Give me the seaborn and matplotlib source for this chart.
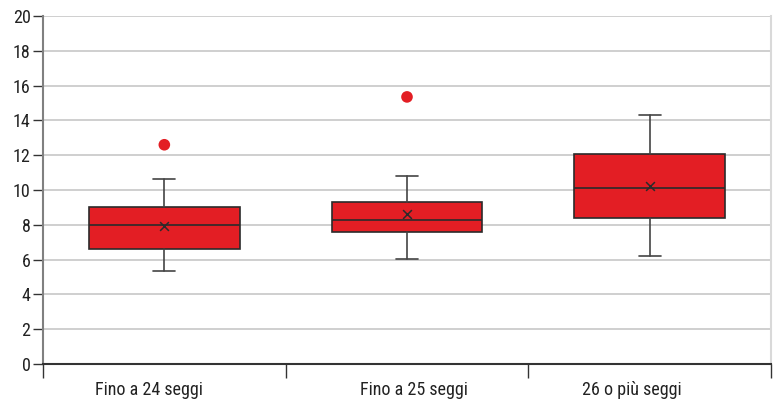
import matplotlib
matplotlib.use("Agg")
import matplotlib.pyplot as plt
import matplotlib.transforms as mtransforms
import seaborn as sns
import numpy as np

# --- Data ---
categories = ["Fino a 24 seggi", "Fino a 25 seggi", "26 o più seggi"]
whisker_low = [5.35, 6.05, 6.2]
q1 = [6.6, 7.6, 8.4]
median = [8.0, 8.3, 10.1]
q3 = [9.0, 9.3, 12.05]
whisker_high = [10.65, 10.8, 14.3]
means = [7.95, 8.6, 10.25]
outliers = [[12.6], [15.35], []]
y_ticks = list(range(0, 21, 2))

RED = "#e31e24"

sns.set_style("white")
plt.rcParams["font.family"] = ["Roboto Condensed", "Liberation Sans Narrow", "DejaVu Sans"]
plt.rcParams["font.stretch"] = "condensed"

fig = plt.figure(figsize=(7.74, 4.03), dpi=100)
ax = fig.add_axes([43 / 774, 39 / 403, 728 / 774, 348 / 403])

stats = []
for i, name in enumerate(categories):
    stats.append({
        "label": name, "whislo": whisker_low[i], "q1": q1[i], "med": median[i],
        "q3": q3[i], "whishi": whisker_high[i], "mean": means[i], "fliers": outliers[i],
    })

positions = np.arange(len(categories))
ax.bxp(stats, positions=positions, widths=0.62, patch_artist=True,
       showmeans=False, showfliers=False,
       boxprops=dict(facecolor=RED, edgecolor="#2b2b2b", linewidth=1.2),
       medianprops=dict(color="#2b2b2b", linewidth=1.2),
       whiskerprops=dict(color="#444444", linewidth=1.2),
       capprops=dict(color="#444444", linewidth=1.2),
       capwidths=0.09)

# means and outliers via seaborn
sns.scatterplot(x=positions, y=means, marker="x", color="#2b2b2b", s=40,
                linewidth=1.1, ax=ax, zorder=5)
fx = [positions[i] for i, o in enumerate(outliers) for _ in o]
fy = [v for o in outliers for v in o]
sns.scatterplot(x=fx, y=fy, color=RED, s=70, edgecolor="none", ax=ax, zorder=5)

ax.set_xlim(-0.5, len(categories) - 0.5)
ax.set_ylim(0, 20)
ax.set_yticks(y_ticks)
ax.set_yticklabels([str(t) for t in y_ticks], fontsize=13, color="#222222")
ax.yaxis.grid(True, color="#cccccc", linewidth=1.3)
ax.set_axisbelow(True)

# category labels between boundary ticks
ax.set_xticks(np.arange(-0.5, len(categories), 1.0))
ax.set_xticklabels([])
ax.set_xticks(positions, minor=True)
ax.set_xticklabels(categories, minor=True, fontsize=13, color="#222222")
ax.tick_params(axis="x", which="major", bottom=True, direction="out", length=10,
               width=1, color="#333333")
ax.tick_params(axis="x", which="minor", bottom=True, length=0, pad=12)
ax.tick_params(axis="y", left=True, direction="out", length=7, width=1,
               color="#333333", pad=2)

# labels in the original sit a little off-centre
for lbl, dx in zip(ax.get_xticklabels(minor=True), [-15, 7, -18]):
    lbl.set_transform(lbl.get_transform() +
                      mtransforms.ScaledTranslation(dx / 100, 0, fig.dpi_scale_trans))

ax.spines["top"].set_visible(False)
ax.spines["right"].set_color("#d9d9d9")
ax.spines["right"].set_linewidth(1.5)
ax.spines["left"].set_color("#808080")
ax.spines["left"].set_linewidth(1.5)
ax.spines["bottom"].set_color("#333333")
ax.spines["bottom"].set_linewidth(1.5)

fig.savefig("out.png", dpi=100)
